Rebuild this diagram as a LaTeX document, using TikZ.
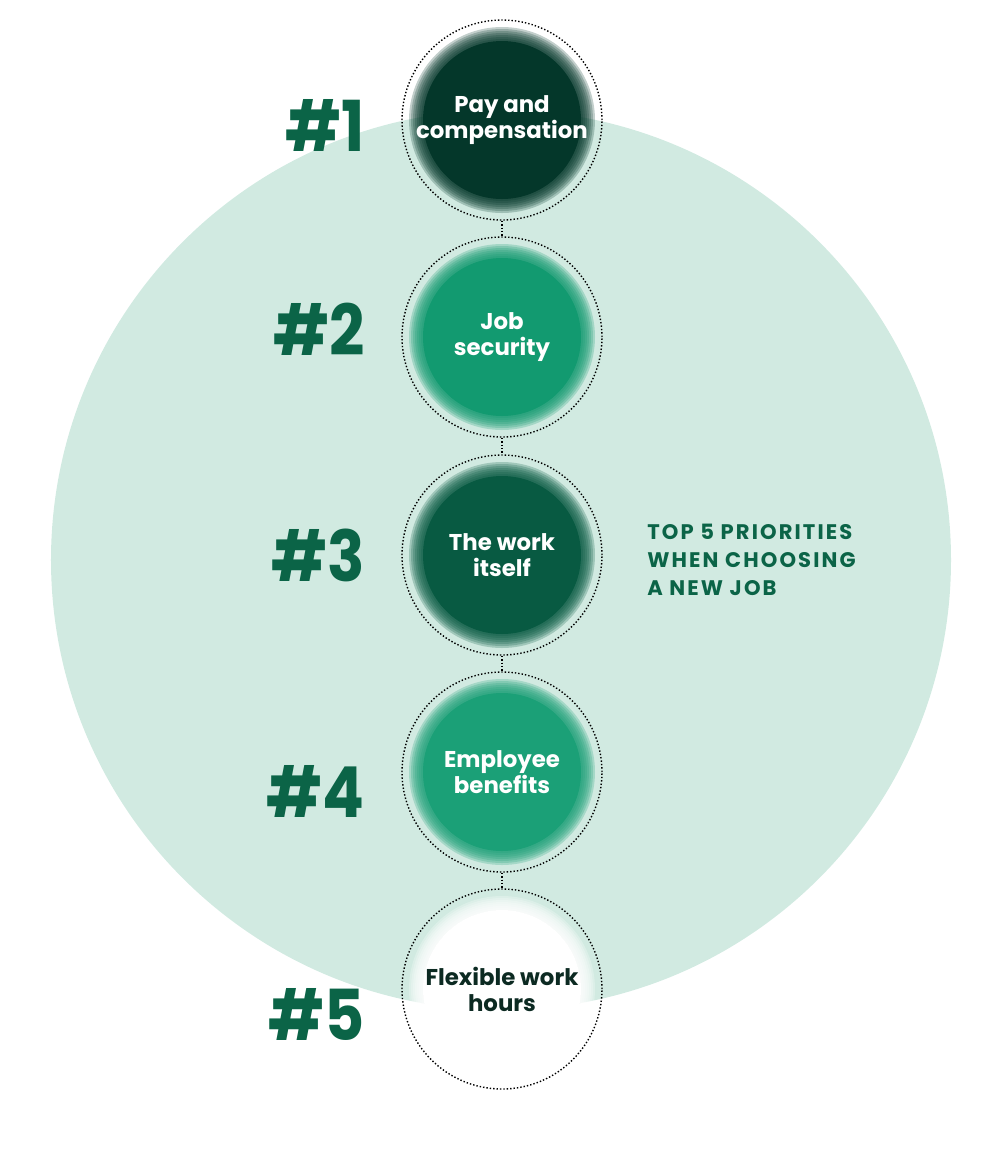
\documentclass[tikz,border=0pt]{standalone}
\usepackage{fontspec}
\setmainfont{Poppins}

\definecolor{mintbg}{HTML}{D1EAE1}
\definecolor{rankgreen}{HTML}{0B6447}
\definecolor{darkest}{HTML}{04372A}
\definecolor{midgreen}{HTML}{129A70}
\definecolor{deepgreen}{HTML}{085A42}
\definecolor{brightgreen}{HTML}{1BA077}
\definecolor{inkgreen}{HTML}{0C2A22}

% soft-edged disk: solid core plus thin translucent rings
\newcommand\softdot[2]{%
	\fill[#2] (#1) circle (15.8mm);
	\foreach \r in {16.2,16.6,17.0,17.4,17.8,18.2,18.6}
		\fill[#2, opacity=0.24] (#1) circle (\r mm);
}

\begin{document}
\begin{tikzpicture}[x=0.2mm, y=-0.2mm,
	ring/.style={circle, minimum size=40mm, inner sep=0pt, draw=black, line width=0.28mm,
		dash pattern=on 0.28mm off 0.4mm, align=center, font=\bfseries\fontsize{13}{14.8}\selectfont},
	rank/.style={anchor=east, inner sep=0pt, xscale=0.88, text=rankgreen, font=\bfseries\fontsize{40}{40}\selectfont},
	link/.style={draw=black, line width=0.28mm, dash pattern=on 0.28mm off 0.4mm}]
	%%%%% START %%%%%
	
	\useasboundingbox (0, 0) rectangle (1000, 1157);
	
	\fill[mintbg] (501, 560) circle (90mm);
	
	\coordinate (c1) at (502, 120);
	\coordinate (c2) at (502, 337);
	\coordinate (c3) at (502, 555);
	\coordinate (c4) at (502, 772);
	\coordinate (c5) at (502, 989);
	
	\softdot{c1}{darkest}
	\softdot{c2}{midgreen}
	\softdot{c3}{deepgreen}
	\softdot{c4}{brightgreen}
	\softdot{c5}{white}
	
	\node[ring, text=white] (r1) at (c1) {Pay and\\compensation};
	\node[ring, text=white] (r2) at (c2) {Job\\security};
	\node[ring, text=white] (r3) at (c3) {The work\\itself};
	\node[ring, text=white] (r4) at (c4) {Employee\\benefits};
	\node[ring, text=inkgreen] (r5) at (c5) {Flexible work\\hours};
	
	\draw[link] (r1) -- (r2);
	\draw[link] (r2) -- (r3);
	\draw[link] (r3) -- (r4);
	\draw[link] (r4) -- (r5);
	
	\node[rank] (n1) at (365, 125) {\#1};
	\node[rank] (n2) at (365, 329) {\#2};
	\node[rank] (n3) at (365, 555.5) {\#3};
	\node[rank] (n4) at (365, 791.5) {\#4};
	\node[rank] (n5) at (365, 1014.5) {\#5};
	
	\node[anchor=west, align=left, text=rankgreen, inner sep=0pt,
		font=\bfseries\fontsize{12}{16}\selectfont\addfontfeatures{LetterSpace=10}] (title) at (647, 560)
		{TOP 5 PRIORITIES\\WHEN CHOOSING\\A NEW JOB};
	
	%%%%% END %%%%%
\end{tikzpicture}
\end{document}
